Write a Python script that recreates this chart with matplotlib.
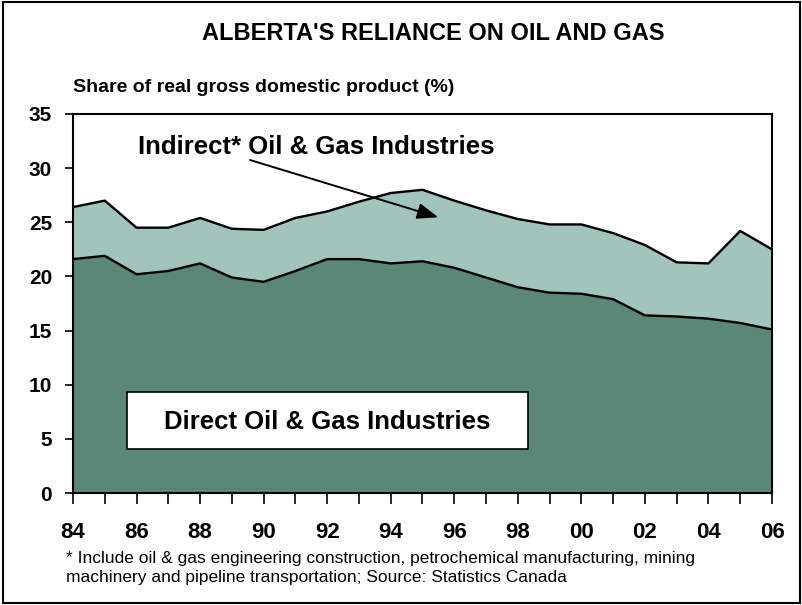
import matplotlib
matplotlib.use("Agg")
import matplotlib.pyplot as plt
from matplotlib.patches import Rectangle, FancyArrowPatch

plt.rcParams['font.family'] = ['Liberation Sans', 'DejaVu Sans']

# Share of real GDP (%)
years = list(range(1984, 2007))
direct = [21.6, 21.9, 20.2, 20.5, 21.2, 19.9, 19.5, 20.5, 21.6, 21.6, 21.2, 21.4,
          20.8, 19.9, 19.0, 18.5, 18.4, 17.9, 16.4, 16.3, 16.1, 15.7, 15.1]
total = [26.4, 27.0, 24.5, 24.5, 25.4, 24.4, 24.3, 25.4, 26.0, 26.9, 27.7, 28.0,
         27.0, 26.1, 25.3, 24.8, 24.8, 24.0, 22.9, 21.3, 21.2, 24.2, 22.5]
y_ticks = [0, 5, 10, 15, 20, 25, 30, 35]
# only every second year gets a label
x_labels = [str(y)[2:] if i % 2 == 0 else '' for i, y in enumerate(years)]

dark = '#5b8776'
light = '#a1c4bc'

fig = plt.figure(figsize=(8.03, 6.05), dpi=100)
ax = fig.add_axes([0.0909, 0.1851, 0.8705, 0.6265])

ax.fill_between(years, 0, direct, color=dark, lw=0)
ax.fill_between(years, direct, total, color=light, lw=0)
ax.plot(years, direct, color='black', lw=1.7)
ax.plot(years, total, color='black', lw=1.7)

ax.set_xlim(years[0], years[-1])
ax.set_ylim(0, 35)
ax.set_yticks(y_ticks)
ax.set_xticks(years)
ax.set_xticklabels(x_labels)
for s in ax.spines.values():
    s.set_linewidth(1.5)
ax.tick_params(axis='x', direction='out', length=8, width=1.2,
               labelsize=16, pad=13)
ax.tick_params(axis='y', direction='out', length=6, width=1.2,
               labelsize=15, pad=9)
for lab in ax.get_xticklabels() + ax.get_yticklabels():
    lab.set_fontweight('bold')

# labels
ax.text(0.093, 0.914, 'Indirect* Oil & Gas Industries', transform=ax.transAxes,
        fontsize=18.5, fontweight='bold', va='center', ha='left')
ax.add_patch(FancyArrowPatch((1989.57, 30.75), (1995.5, 25.46),
                             arrowstyle='-|>,head_length=0.8,head_width=0.3',
                             mutation_scale=16, color='black', lw=1.4,
                             shrinkA=0, shrinkB=0, zorder=5))
ax.add_patch(Rectangle((0.0773, 0.116), 0.5737, 0.1505, transform=ax.transAxes,
                       facecolor='white', edgecolor='black', lw=1.2, zorder=3))
ax.text(0.364, 0.187, 'Direct Oil & Gas Industries', transform=ax.transAxes,
        fontsize=18.5, fontweight='bold', va='center', ha='center', zorder=4)

fig.text(433 / 803, 1 - 33 / 605, "ALBERTA'S RELIANCE ON OIL AND GAS",
         fontsize=17, fontweight='bold', ha='center', va='center')
fig.text(73 / 803, 1 - 88 / 605, 'Share of real gross domestic product (%)',
         fontsize=14, fontweight='bold', ha='left', va='center')
fig.text(66 / 803, 1 - 568 / 605,
         '* Include oil & gas engineering construction, petrochemical manufacturing, mining\n'
         'machinery and pipeline transportation; Source: Statistics Canada',
         fontsize=12.5, ha='left', va='center', linespacing=1.3)

# outer frame
fig.add_artist(Rectangle((0.004, 0.004), 0.992, 0.992, transform=fig.transFigure,
                         fill=False, edgecolor='black', lw=1.5))

fig.savefig('out.png', dpi=100)
